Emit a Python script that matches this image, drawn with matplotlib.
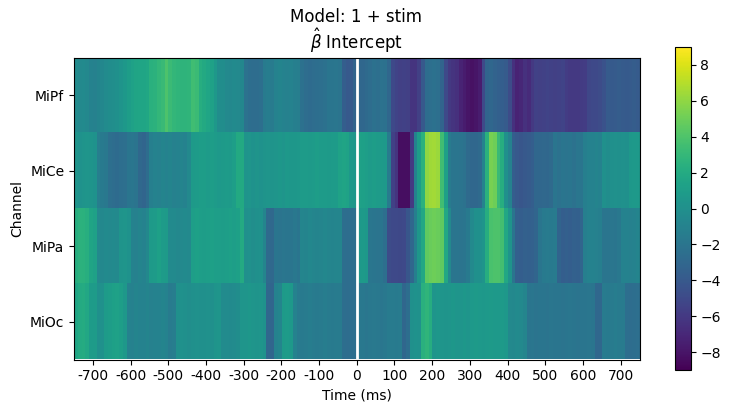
import matplotlib
matplotlib.use("Agg")
import matplotlib.pyplot as plt
import numpy as np

canais = ["MiPf", "MiCe", "MiPa", "MiOc"]
tempos_ticks = [-700, -600, -500, -400, -300, -200, -100, 0, 100, 200, 300, 400, 500, 600, 700]

# valores, um a cada 10 ms (de -745 a 745 ms)
mipf = [-0.3, -0.5, -0.4, -0.6, -1, -1.1, -0.9, -0.7, -0.3, -0.2, -0.1, 0, 0.3, 0.6,
        1, 1.3, 1.5, 1.6, 1.6, 1.7, 2.4, 2.6, 2.9, 3.2, 4, 3.3, 2.9, 2.8, 2.7, 2.7, 2.8, 3.5, 3.3,
        2.2, 1.9, 1.6, 1.3, 0.6, -0.2, -0.2, -0.5, -0.6, -0.4, -0.5, -0.7,
        -2.2, -2.5, -2.6, -2.6, -2.4, -1.5, -1.4, -1.5, -1, -0.9, -1, -1.1, -1, -1.2, -1.3,
        -2.3, -2.6, -2.7, -2.6, -2.5, -2.4, -2.3, -2, -2, -1.9, -2.1, -3.6, -4, -3.9, -3.2,
        -3, -3, -2.8, -2.6, -2.3, -2.4, -2.2, -2.3, -3, -5, -5.4, -5.6, -5.5, -5.6, -6.3, -6.3,
        -5.6, -4, -2.6, -2.4, -2.3, -2.4, -3.2, -5, -6, -6.3, -6.5, -7.2, -7.6, -8, -8.2, -8, -7.6,
        -5, -3.2, -3, -3.3, -3.5, -3.6, -3.8, -4.8, -6.4, -7.2, -7, -6.4, -6.8, -6,
        -5.5, -5.6, -5.5, -5.4, -5.5, -5.6, -5.5, -5.4, -5.8, -6, -6, -6, -5.9, -5.8,
        -5.2, -5, -5, -4.8, -4.5, -3.8, -3.9, -3.8, -3.7, -3.8, -3.9, -3.8, -3.7, -3.8]
mice = [0.3, 0.2, 0.3, 0.4, 0.3, 0.2, -1.3, -1.6, -1.8, -2.4, -2.6, -2.7, -2.5, -2.4, -2, -1.9, -2.1,
        -2.9, -3.1, -2.6, -1.2, -1, -1.1, -0.9, -1, -0.9, -1.1, -1, -0.9, -1, -0.5,
        0.8, 0.9, 1, 1, 0.9, 1, 0.9, 0.7, 0.8, 0.9, 0.8, 1.1, 1.9, 1.9,
        0.3, 0.4, 0.2, 0.3, 0.2, 0.3, 0.4, 0.3, 0.4, 0.5, 0.4, 0.6, 0.5, 0.5, 0.6,
        0.9, 0.9, 0.8, 0.9, 1, 0.9, 0.9, 0.8, 0.9, 0.9, 1.4, 1.5, 1.4, 0.6, 0.5,
        1.3, 1.2, 1.1, 0.9, 1, 0.9, 0.8, 0.7, -1.5, -5.5, -6.3, -8.3, -8.3, -8.3, -6, -1, 1, 2.5,
        6, 6.4, 6.5, 6.3, 3.5, 1.2, -1.5, -2, -2, -2.1, -2.2, -2.8, -3, -3, -2.8, -1, 2.5, 5.3, 5, 3.2, 2.2,
        0, -1, -3.6, -4, -4.2, -4, -3.8, -3.6, -3, -3, -2.9, -3, -2.8,
        -2, -2.2, -2, -2.1, -2, -2.2, -1.9, -2, -1.2, -1, -1, -0.9, -1,
        0, -0.2, 0, 0.1, 0, 0.1, 0, 0.6, 0.7, 0.7]
mipa = [2.2, 2.6, 2.5, 2.3, 1.5, 1.3, -0.5, -0.6, -0.4, -0.5, -0.4, -0.5, 0.3, 0.4, 0.2,
        -1, -1.1, -0.9, -1, -0.6, 0.8, 0.9, 1.2, 0.9, 0.8, -0.4, -0.4, -0.6, -0.5, -0.4, -0.5,
        1.1, 1.2, 1.1, 1, 1.1, 1.2, 1.1, 1.1, 1, 1.1, 1.2, 1.1, 1.2, 2,
        0, 0.1, -0.1, 0, 0.1, -0.8, -2.8, -2.9, -2, -2.1, -1.9, -2, -2, -1.8, -2,
        -0.8, -0.9, -0.7, -0.8, -0.9, -0.8, -0.7, -0.8, -0.9, -0.8, -0.8, -2.5, -2.6, -2.5, -2.4,
        0.7, 0.8, 0.6, -1.9, -2, -2.1, -2, -2.4, -4.8, -5, -5, -5.1, -5, -4.2, -3, -1.2, 0.5, 1.8,
        4.6, 4.9, 5, 4.9, 4.6, 1.8, -0.5, -2, -2, -2.1, -2, -1.6, -0.5, 0, 0, 0.3, 2.2, 3.8, 4, 4, 3.6,
        1.8, 0.3, -2, -3.5, -3.6, -3.4, -3.5, -3.4, -3.1, -2, -1.6, -1.5, -1.6, -1.5,
        -3.2, -3.6, -3.5, -3.6, -3.4, -3.5, -3.1, -1.2, -1, -1, -1.1, -1.2,
        -2, -2, -1.9, -2, -1.8, -1, -1, -1.1, -1, -0.9]
mioc = [1.6, 2, 2.1, 1.8, 0.9, 0.9, 0, 0.1, 0.9, 1, 1.2, 1.3, 1.1, 0.6,
        -1, -1.1, -0.9, -1, -1, -0.9, -1.1, -1, -1, -0.9, -1, -1.5, -1.4,
        0, 0.1, 0, -0.1, 0, 0.1, 0, 0, 0.1, 0, 0.3, 0.4, -0.3, -0.3, -0.4, -0.3, -0.2,
        0.4, 0.4, 0.5, 0.4, 0.3, 0.4, 0.2, -3, -3.1, -1, -0.8, 0.8, 0.9, 0.7, -1,
        -1.5, -1.6, -1.5, -1.4, -1.5, -1.6, -1.5, -1.4, -1.5, -1.6, -1.5, -1.5, -2.5, -2.6, -2.5, -2.4,
        -1.8, -1.8, -1.9, -1.8, -1.7, -1.8, -1.9, -1.8, -1.5, -1.5, -1.6, -1.5, -3, -2.5, 0, 0.2, 0.1,
        2.4, 2.8, 2.2, 0.4, 0.5, 0.4, 0.3, 0.4, 0.5, 0.4, 0.4, 0.5, 0.4,
        0.7, 0.8, 0.7, 0.6, 0.7, 0.8, 0.7, 0.7, 0.8, 0.6, -0.5, -0.6, -0.4, -0.5, -0.8,
        -2, -1.9, -2.1, -2, -2, -2.1, -1.9, -2, -2, -2.1, -2, -1.9, -2, -2.1, -2, -2, -1.9, -2,
        -3, -3, -1.5, -1.6, -1.5, -1.4, -1.5, -1.5, -2.5, -2.6, -2.5, -2.4]

fig = plt.figure(figsize=(7.3, 4.12), dpi=100)
ax = fig.add_axes([74 / 730, 1 - 359.5 / 412, 565.5 / 730, 302 / 412])
cax = fig.add_axes([674.5 / 730, 1 - 370 / 412, 16 / 730, 323 / 412])

dados = np.array([mipf, mice, mipa, mioc])
im = ax.imshow(dados, aspect="auto", cmap="viridis", vmin=-9, vmax=9,
               extent=[-750, 750, len(canais) - 0.5, -0.5], interpolation="nearest")
ax.axvline(0, color="white", linewidth=2)

ax.set_xticks(tempos_ticks)
ax.set_xticklabels([str(t) for t in tempos_ticks])
ax.set_yticks(range(len(canais)))
ax.set_yticklabels(canais)
ax.set_xlabel("Time (ms)")
ax.set_ylabel("Channel")
ax.set_title(r"$\hat{\beta}$ Intercept", fontsize=12)

cbar = fig.colorbar(im, cax=cax)
cbar.set_ticks([-8, -6, -4, -2, 0, 2, 4, 6, 8])

fig.suptitle("Model: 1 + stim", fontsize=12, x=356 / 730, y=1 - 8 / 412)
fig.savefig("out.png", dpi=100)
